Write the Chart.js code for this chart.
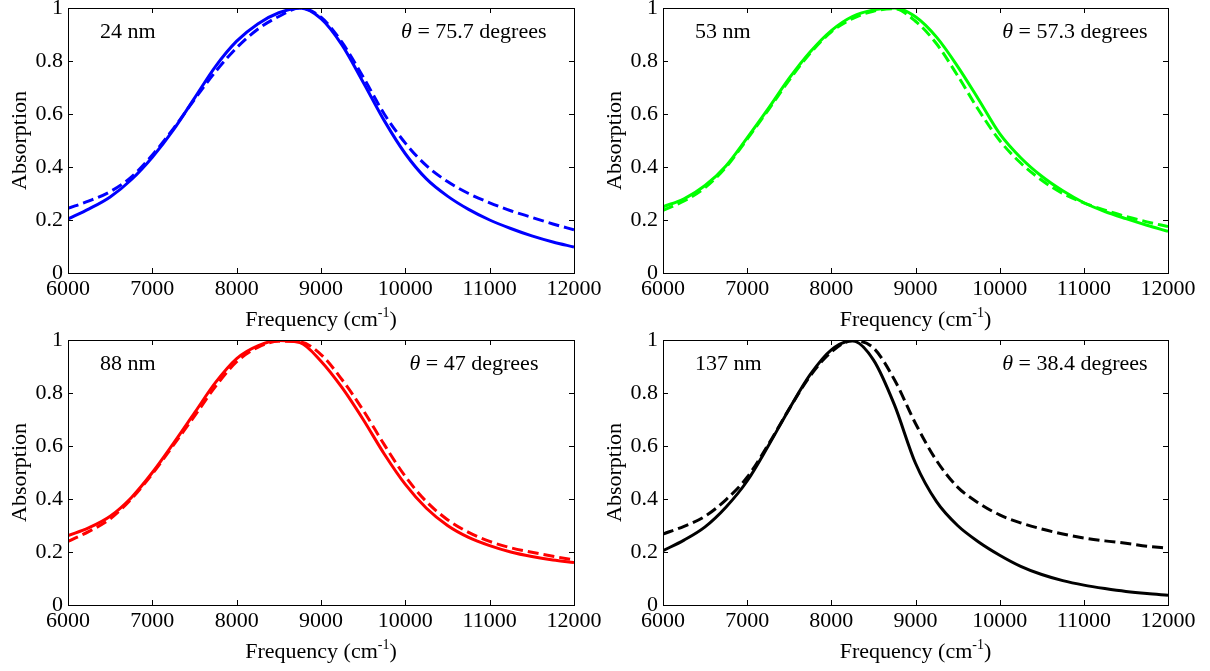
<!DOCTYPE html>
<html>
<head>
<meta charset="utf-8">
<script src="https://cdn.jsdelivr.net/npm/chart.js@4/dist/chart.umd.min.js"></script>
<style>
  body { margin: 0; background: #fff; width: 1210px; height: 671px; position: relative; overflow: hidden; }
  canvas { position: absolute; }
</style>
</head>
<body>
<canvas id="c1" width="605" height="335" style="left:0;top:0"></canvas>
<canvas id="c2" width="615" height="335" style="left:595px;top:0"></canvas>
<canvas id="c3" width="605" height="339" style="left:0;top:332px"></canvas>
<canvas id="c4" width="615" height="339" style="left:595px;top:332px"></canvas>
<script>
// frequency grid (cm-1)
const freq = [6000, 6250, 6500, 6750, 7000, 7250, 7500, 7750, 8000, 8250, 8500, 8750, 9000,
              9250, 9500, 9750, 10000, 10250, 10500, 10750, 11000, 11250, 11500, 11750, 12000];
const xTicks = [6000, 7000, 8000, 9000, 10000, 11000, 12000];
const yTicks = [0, 0.2, 0.4, 0.6, 0.8, 1];

// 24 nm
const blueSolid  = [0.204, 0.242, 0.287, 0.352, 0.437, 0.54, 0.66, 0.78, 0.875, 0.94, 0.982, 1.0, 0.96,
                    0.86, 0.72, 0.575, 0.45, 0.355, 0.29, 0.24, 0.2, 0.168, 0.14, 0.117, 0.098];
const blueDashed = [0.244, 0.272, 0.307, 0.362, 0.445, 0.545, 0.655, 0.76, 0.85, 0.92, 0.968, 1.0, 0.965,
                    0.87, 0.74, 0.6, 0.49, 0.405, 0.345, 0.3, 0.265, 0.235, 0.21, 0.185, 0.163];
// 53 nm
const greenSolid  = [0.25, 0.28, 0.33, 0.405, 0.51, 0.62, 0.735, 0.835, 0.915, 0.968, 0.993, 1.0, 0.967,
                     0.89, 0.78, 0.655, 0.526, 0.435, 0.365, 0.31, 0.265, 0.232, 0.205, 0.18, 0.157];
const greenDashed = [0.236, 0.272, 0.322, 0.4, 0.505, 0.615, 0.728, 0.83, 0.91, 0.96, 0.988, 0.997, 0.95,
                     0.865, 0.745, 0.615, 0.5, 0.415, 0.35, 0.3, 0.265, 0.237, 0.213, 0.193, 0.175];
// 88 nm
const redSolid  = [0.262, 0.292, 0.335, 0.405, 0.5, 0.61, 0.725, 0.84, 0.93, 0.978, 0.998, 0.99, 0.92,
                   0.82, 0.7, 0.57, 0.455, 0.365, 0.3, 0.255, 0.224, 0.2, 0.183, 0.17, 0.16];
const redDashed = [0.24, 0.278, 0.325, 0.4, 0.495, 0.603, 0.713, 0.825, 0.918, 0.972, 0.995, 0.993, 0.945,
                   0.85, 0.735, 0.605, 0.485, 0.39, 0.322, 0.274, 0.24, 0.216, 0.199, 0.184, 0.17];
// 137 nm
const blackSolid  = [0.205, 0.245, 0.295, 0.37, 0.468, 0.6, 0.74, 0.87, 0.963, 0.997, 0.925, 0.755, 0.535,
                     0.39, 0.3, 0.238, 0.188, 0.146, 0.115, 0.092, 0.075, 0.062, 0.051, 0.043, 0.037];
const blackDashed = [0.268, 0.297, 0.335, 0.398, 0.482, 0.605, 0.74, 0.865, 0.955, 0.997, 0.97, 0.85, 0.685,
                     0.545, 0.445, 0.385, 0.34, 0.31, 0.287, 0.268, 0.253, 0.242, 0.233, 0.222, 0.214];

const sizes = ['24 nm', '53 nm', '88 nm', '137 nm'];
const angles = ['75.7', '57.3', '47', '38.4'];

const FONT = '"Liberation Serif", "Times New Roman", serif';

// axes box with inward ticks, titles and in-plot notes
const framePlugin = {
  id: 'frame',
  afterDraw(chart) {
    const ctx = chart.ctx;
    const a = chart.chartArea;
    const xs = chart.scales.x, ys = chart.scales.y;
    const o = chart.options.plugins.frame;
    ctx.save();
    ctx.strokeStyle = '#000';
    ctx.lineWidth = 1;
    ctx.strokeRect(Math.round(a.left) + 0.5, Math.round(a.top) + 0.5,
                   Math.round(a.right - a.left), Math.round(a.bottom - a.top));
    ctx.beginPath();
    xTicks.forEach(v => {
      const px = Math.round(xs.getPixelForValue(v)) + 0.5;
      ctx.moveTo(px, a.bottom); ctx.lineTo(px, a.bottom - 5);
      ctx.moveTo(px, a.top); ctx.lineTo(px, a.top + 5);
    });
    yTicks.forEach(v => {
      const py = Math.round(ys.getPixelForValue(v)) + 0.5;
      ctx.moveTo(a.left, py); ctx.lineTo(a.left + 5, py);
      ctx.moveTo(a.right, py); ctx.lineTo(a.right - 5, py);
    });
    ctx.stroke();

    ctx.fillStyle = '#000';
    ctx.textBaseline = 'alphabetic';
    ctx.textAlign = 'left';
    const base = ys.getPixelForValue(o.noteY);

    // size note
    ctx.font = '22px ' + FONT;
    ctx.fillText(o.size, xs.getPixelForValue(o.sizeX), base);

    // angle note, italic theta
    let tx = xs.getPixelForValue(o.angleX);
    ctx.font = 'italic 22px ' + FONT;
    ctx.fillText('\u03b8', tx, base);
    tx += ctx.measureText('\u03b8').width;
    ctx.font = '22px ' + FONT;
    ctx.fillText(' = ' + o.angle + ' degrees', tx, base);

    // x title with superscript
    const cx = (a.left + a.right) / 2;
    const ty = a.bottom + 53;
    ctx.font = '22px ' + FONT;
    const p1 = 'Frequency (cm', p3 = ')';
    const w1 = ctx.measureText(p1).width, w3 = ctx.measureText(p3).width;
    ctx.font = '14px ' + FONT;
    const w2 = ctx.measureText('-1').width;
    let sx = cx - (w1 + w2 + w3) / 2;
    ctx.font = '22px ' + FONT;
    ctx.fillText(p1, sx, ty);
    ctx.font = '14px ' + FONT;
    ctx.fillText('-1', sx + w1, ty - 9);
    ctx.font = '22px ' + FONT;
    ctx.fillText(p3, sx + w1 + w2, ty);

    // y title
    ctx.translate(a.left - 48, (a.top + a.bottom) / 2);
    ctx.rotate(-Math.PI / 2);
    ctx.textAlign = 'center';
    ctx.textBaseline = 'middle';
    ctx.fillText('Absorption', 0, 0);
    ctx.restore();
  }
};

function makePanel(id, color, solid, dashed, idx, padRight, xHeight, angleX) {
  const ctx = document.getElementById(id).getContext('2d');
  new Chart(ctx, {
    type: 'line',
    data: {
      labels: freq,
      datasets: [
        { data: solid, borderColor: color, borderWidth: 3, pointRadius: 0,
          cubicInterpolationMode: 'monotone', fill: false },
        { data: dashed, borderColor: color, borderWidth: 3, borderDash: [11, 5], pointRadius: 0,
          cubicInterpolationMode: 'monotone', fill: false }
      ]
    },
    options: {
      responsive: false,
      animation: false,
      events: [],
      layout: { padding: { top: 8, right: padRight, left: 0, bottom: 0 } },
      plugins: {
        legend: { display: false },
        tooltip: { enabled: false },
        frame: { size: sizes[idx], angle: angles[idx], sizeX: 6380, angleX: angleX, noteY: 0.887 }
      },
      scales: {
        x: {
          type: 'linear', min: 6000, max: 12000,
          grid: { display: false, drawTicks: false },
          border: { display: false },
          afterBuildTicks: s => { s.ticks = xTicks.map(v => ({ value: v })); },
          ticks: { color: '#000', padding: 3, maxRotation: 0, autoSkip: false,
                   font: { family: FONT, size: 22 }, callback: v => String(v) },
          afterFit: s => { s.height = xHeight; s.paddingLeft = 0; s.paddingRight = 0; }
        },
        y: {
          min: 0, max: 1,
          grid: { display: false, drawTicks: false },
          border: { display: false },
          afterBuildTicks: s => { s.ticks = yTicks.map(v => ({ value: v })); },
          ticks: { color: '#000', padding: 5, font: { family: FONT, size: 22 },
                   callback: v => String(+v.toFixed(1)) },
          afterFit: s => { s.width = 68; s.paddingTop = 0; s.paddingBottom = 0; }
        }
      }
    },
    plugins: [framePlugin]
  });
}

makePanel('c1', '#0000ff', blueSolid, blueDashed, 0, 31, 62, 9950);
makePanel('c2', '#00ff00', greenSolid, greenDashed, 1, 42, 62, 10030);
makePanel('c3', '#ff0000', redSolid, redDashed, 2, 31, 66, 10050);
makePanel('c4', '#000000', blackSolid, blackDashed, 3, 42, 66, 10030);
</script>
</body>
</html>
